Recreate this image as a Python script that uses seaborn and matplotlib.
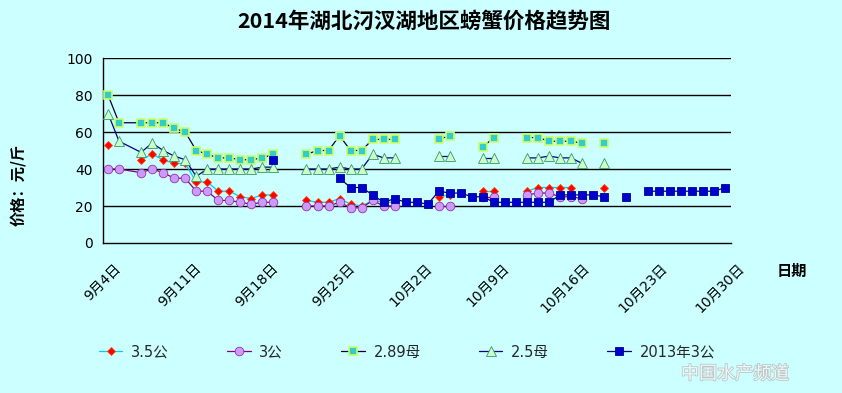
import numpy as np
import pandas as pd
import matplotlib
matplotlib.use("Agg")
import matplotlib.pyplot as plt
from matplotlib.lines import Line2D
import matplotlib.patheffects as pe
import seaborn as sns

N = None
title = "2014年湖北汈汊湖地区螃蟹价格趋势图"
y_label = "价格：元/斤"
x_label = "日期"
series_names = ["3.5公", "3公", "2.89母", "2.5母", "2013年3公"]

# table rows: every day 9/4 .. 10/30 except 9/6 (not in the table)
dates = pd.date_range("2014-09-04", "2014-10-30").drop(pd.Timestamp("2014-09-06"))
tick_dates = pd.date_range("2014-09-04", "2014-10-30", freq="7D")
tick_labels = ["9月4日", "9月11日", "9月18日", "9月25日", "10月2日",
               "10月9日", "10月16日", "10月23日", "10月30日"]
y_ticks = [0, 20, 40, 60, 80, 100]

s35 = [53, N, 45, 48, 45, 43,
       43, 33, 33, 28, 28, 25, 24,
       26, 26, N, N, 23, 22, 22,
       24, 21, 20, 23, 22, 22, N,
       N, N, 25, 26, N, N, 28,
       28, N, N, 28, 30, 30, 30,
       30, N, N, 30, N, N, N,
       N, N, N, N, N, N, N,
       N]
s3 = [40, 40, 38, 40, 38, 35,
      35, 28, 28, 23, 23, 22, 21,
      22, 22, N, N, 20, 20, 20,
      22, 19, 19, 23, 20, 20, N,
      N, N, 20, 20, N, N, 25,
      25, N, N, 26, 27, 27, 25,
      25, 24, N, N, N, N, N,
      N, N, N, N, N, N, N,
      N]
s289 = [80, 65, 65, 65, 65, 62,
        60, 50, 48, 46, 46, 45, 45,
        46, 48, N, N, 48, 50, 50,
        58, 50, 50, 56, 56, 56, N,
        N, N, 56, 58, N, N, 52,
        57, N, N, 57, 57, 55, 55,
        55, 54, N, 54, N, N, N,
        N, N, N, N, N, N, N,
        N]
s25 = [70, 55, 49, 54, 50, 47,
       45, 36, 40, 40, 40, 40, 40,
       41, 41, N, N, 40, 40, 40,
       41, 40, 40, 48, 46, 46, N,
       N, N, 47, 47, N, N, 46,
       46, N, N, 46, 46, 47, 46,
       46, 43, N, 43, N, N, N,
       N, N, N, N, N, N, N,
       N]
s2013 = [N, N, N, N, N, N,
         N, N, N, N, N, N, N,
         N, 45, N, N, N, N, N,
         35, 30, 30, 26, 22, 24, 22,
         22, 21, 28, 27, 27, 25, 25,
         22, 22, 22, 22, 22, 22, 26,
         26, 26, 26, 25, N, 25, N,
         28, 28, 28, 28, 28, 28, 28,
         30]

values = [s35, s3, s289, s25, s2013]
styles = [
    dict(color="#00CCFF", marker="D", ms=4.4, mfc="#FF0000", mec="#FF4400", mew=0.6),
    dict(color="#800080", marker="o", ms=6.2, mfc="#CC99FF", mec="#993399", mew=0.6),
    dict(color="#000033", marker="s", ms=5.6, mfc="#33CCCC", mec="#CCFF66", mew=1.2),
    dict(color="#000080", marker="^", ms=6.6, mfc="#CCFFCC", mec="#339966", mew=0.6),
    dict(color="#000080", marker="s", ms=5.8, mfc="#0000CC", mec="#000099", mew=0.6),
]

bg = "#CCFFFF"
sns.set_theme(style="white")
plt.rcParams["font.family"] = ["DejaVu Sans", "Noto Sans CJK SC"]

fig = plt.figure(figsize=(8.42, 3.93), dpi=100, facecolor=bg)
ax = fig.add_axes([102.5 / 842, 1 - 243 / 393, (731 - 102.5) / 842, (243 - 58) / 393])
ax.set_facecolor(bg)

day0 = dates[0]
xpos = np.asarray((dates - day0).days, dtype=float) + 0.5

frames = []
for name, vals in zip(series_names, values):
    v = pd.Series(vals, dtype=float)
    seg = v.isna().cumsum()
    df = pd.DataFrame({"x": xpos, "v": v, "seg": seg, "series": name}).dropna()
    frames.append(df)

for name, df, st in zip(series_names, frames, styles):
    sns.lineplot(data=df, x="x", y="v", units="seg", estimator=None, sort=False,
                 color=st["color"], marker=st["marker"], ms=st["ms"], mfc=st["mfc"],
                 mec=st["mec"], mew=st["mew"], linewidth=0.9, ax=ax, legend=False,
                 zorder=3)

ax.set_xlim(0, 57)
ax.set_ylim(0, 100)
ax.set_yticks(y_ticks)
ax.set_yticklabels([str(t) for t in y_ticks], fontsize=10, color="black")
ax.set_xticks(np.asarray((tick_dates - day0).days, dtype=float))
ax.set_xticklabels(tick_labels, rotation=45, ha="center", va="top", fontsize=10, color="black")
ax.tick_params(axis="x", direction="out", length=5, width=1, color="black", pad=8)
ax.tick_params(axis="y", direction="out", length=3, width=1, color="black", pad=4)
ax.grid(False)
for yv in y_ticks[1:]:
    ax.axhline(yv, color="black", lw=1.0, zorder=1)
for side in ["top", "right"]:
    ax.spines[side].set_visible(False)
for side in ["left", "bottom"]:
    ax.spines[side].set_color("black")
    ax.spines[side].set_linewidth(1.0)
ax.set_xlabel("")
ax.set_ylabel("")

fig.text(424 / 842, 1 - 21 / 393, title, ha="center", va="center", fontsize=15.5,
         fontweight="bold", family=["Noto Sans CJK SC"], color="black")
fig.text(18 / 842, 1 - 185 / 393, y_label, rotation=90, ha="center", va="center",
         fontsize=11, fontweight="bold", family=["Noto Sans CJK SC"], color="black")
fig.text(792 / 842, 1 - 271 / 393, x_label, ha="center", va="center", fontsize=11,
         fontweight="bold", family=["Noto Sans CJK SC"], color="black")

handles = [Line2D([], [], color=st["color"], marker=st["marker"], ms=st["ms"], mfc=st["mfc"],
                  mec=st["mec"], mew=st["mew"], lw=0.9) for st in styles]
fig.legend(handles, series_names, loc="center", bbox_to_anchor=(407 / 842, 1 - 352 / 393),
           ncol=5, frameon=False, fontsize=10.5, handlelength=1.6, handletextpad=0.6,
           columnspacing=4.0)

wm = fig.text(735 / 842, 1 - 374 / 393, "中国水产频道", ha="center", va="center", fontsize=13,
              style="italic", family=["Noto Sans CJK SC"], color="#F4FAFA", alpha=0.95)
wm.set_path_effects([pe.withStroke(linewidth=1.2, foreground="#B8C4C4")])

fig.savefig("out.png", dpi=100, facecolor=bg)
